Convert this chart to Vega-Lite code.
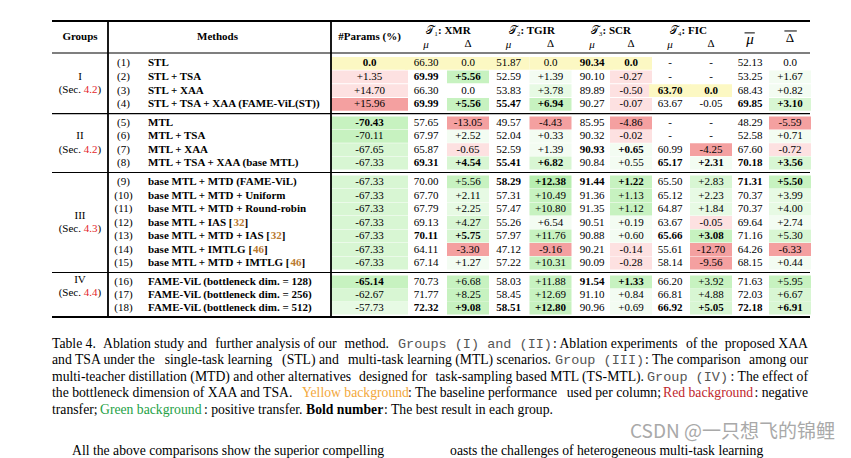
{
  "$schema": "https://vega.github.io/schema/vega-lite/v6.json",
  "width": 851,
  "height": 458,
  "autosize": {"type": "none"},
  "padding": 0,
  "background": "#ffffff",
  "config": {"view": {"stroke": null}, "text": {"font": "Liberation Serif", "fontSize": 11, "color": "#000000"}},
  "datasets": {
    "cells": [
      {"r":1,"c":3,"v":"0.0","b":1,"s":"base"},{"r":1,"c":4,"v":"66.30","s":"base"},{"r":1,"c":5,"v":"0.0","s":"base"},{"r":1,"c":6,"v":"51.87","s":"base"},{"r":1,"c":7,"v":"0.0","s":"base"},{"r":1,"c":8,"v":"90.34","b":1,"s":"base"},{"r":1,"c":9,"v":"0.0","b":1,"s":"base"},{"r":1,"c":10,"v":"-"},{"r":1,"c":11,"v":"-"},{"r":1,"c":12,"v":"52.13"},{"r":1,"c":13,"v":"0.0"},
      {"r":2,"c":3,"v":"+1.35","s":"r1"},{"r":2,"c":4,"v":"69.99","b":1},{"r":2,"c":5,"v":"+5.56","b":1,"s":"g3"},{"r":2,"c":6,"v":"52.59"},{"r":2,"c":7,"v":"+1.39","s":"g0"},{"r":2,"c":8,"v":"90.10"},{"r":2,"c":9,"v":"-0.27","s":"r1"},{"r":2,"c":10,"v":"-"},{"r":2,"c":11,"v":"-"},{"r":2,"c":12,"v":"53.25"},{"r":2,"c":13,"v":"+1.67","s":"g0"},
      {"r":3,"c":3,"v":"+14.70","s":"r1"},{"r":3,"c":4,"v":"66.30"},{"r":3,"c":5,"v":"0.0"},{"r":3,"c":6,"v":"53.83"},{"r":3,"c":7,"v":"+3.78","s":"g1"},{"r":3,"c":8,"v":"89.89"},{"r":3,"c":9,"v":"-0.50","s":"r1"},{"r":3,"c":10,"v":"63.70","b":1,"s":"base"},{"r":3,"c":11,"v":"0.0","b":1,"s":"base"},{"r":3,"c":12,"v":"68.43"},{"r":3,"c":13,"v":"+0.82","s":"g0"},
      {"r":4,"c":3,"v":"+15.96","s":"r3"},{"r":4,"c":4,"v":"69.99","b":1},{"r":4,"c":5,"v":"+5.56","b":1,"s":"g3"},{"r":4,"c":6,"v":"55.47","b":1},{"r":4,"c":7,"v":"+6.94","b":1,"s":"g3"},{"r":4,"c":8,"v":"90.27"},{"r":4,"c":9,"v":"-0.07","s":"r1"},{"r":4,"c":10,"v":"63.67"},{"r":4,"c":11,"v":"-0.05"},{"r":4,"c":12,"v":"69.85","b":1},{"r":4,"c":13,"v":"+3.10","b":1,"s":"g2"},
      {"r":5,"c":3,"v":"-70.43","b":1,"s":"g3"},{"r":5,"c":4,"v":"57.65"},{"r":5,"c":5,"v":"-13.05","s":"r3"},{"r":5,"c":6,"v":"49.57"},{"r":5,"c":7,"v":"-4.43","s":"r3"},{"r":5,"c":8,"v":"85.95"},{"r":5,"c":9,"v":"-4.86","s":"r3"},{"r":5,"c":10,"v":"-"},{"r":5,"c":11,"v":"-"},{"r":5,"c":12,"v":"48.29"},{"r":5,"c":13,"v":"-5.59","s":"r3"},
      {"r":6,"c":3,"v":"-70.11","s":"g3"},{"r":6,"c":4,"v":"67.97"},{"r":6,"c":5,"v":"+2.52","s":"g0"},{"r":6,"c":6,"v":"52.04"},{"r":6,"c":7,"v":"+0.33","s":"g0"},{"r":6,"c":8,"v":"90.32"},{"r":6,"c":9,"v":"-0.02","s":"r1"},{"r":6,"c":10,"v":"-"},{"r":6,"c":11,"v":"-"},{"r":6,"c":12,"v":"52.58"},{"r":6,"c":13,"v":"+0.71","s":"g0"},
      {"r":7,"c":3,"v":"-67.65","s":"g2"},{"r":7,"c":4,"v":"65.87"},{"r":7,"c":5,"v":"-0.65","s":"r1"},{"r":7,"c":6,"v":"52.59"},{"r":7,"c":7,"v":"+1.39","s":"g0"},{"r":7,"c":8,"v":"90.93","b":1},{"r":7,"c":9,"v":"+0.65","b":1,"s":"g0"},{"r":7,"c":10,"v":"60.99"},{"r":7,"c":11,"v":"-4.25","s":"r3"},{"r":7,"c":12,"v":"67.60"},{"r":7,"c":13,"v":"-0.72","s":"r1"},
      {"r":8,"c":3,"v":"-67.33","s":"g2"},{"r":8,"c":4,"v":"69.31","b":1},{"r":8,"c":5,"v":"+4.54","b":1,"s":"g2"},{"r":8,"c":6,"v":"55.41","b":1},{"r":8,"c":7,"v":"+6.82","b":1,"s":"g2"},{"r":8,"c":8,"v":"90.84"},{"r":8,"c":9,"v":"+0.55","s":"g0"},{"r":8,"c":10,"v":"65.17","b":1},{"r":8,"c":11,"v":"+2.31","b":1,"s":"g0"},{"r":8,"c":12,"v":"70.18","b":1},{"r":8,"c":13,"v":"+3.56","b":1,"s":"g2"},
      {"r":9,"c":3,"v":"-67.33","s":"g2"},{"r":9,"c":4,"v":"70.00"},{"r":9,"c":5,"v":"+5.56","s":"g3"},{"r":9,"c":6,"v":"58.29","b":1},{"r":9,"c":7,"v":"+12.38","b":1,"s":"g4"},{"r":9,"c":8,"v":"91.44","b":1},{"r":9,"c":9,"v":"+1.22","b":1,"s":"g3"},{"r":9,"c":10,"v":"65.50"},{"r":9,"c":11,"v":"+2.83","s":"g2"},{"r":9,"c":12,"v":"71.31","b":1},{"r":9,"c":13,"v":"+5.50","b":1,"s":"g3"},
      {"r":10,"c":3,"v":"-67.33","s":"g2"},{"r":10,"c":4,"v":"67.70"},{"r":10,"c":5,"v":"+2.11","s":"g1"},{"r":10,"c":6,"v":"57.31"},{"r":10,"c":7,"v":"+10.49","s":"g3"},{"r":10,"c":8,"v":"91.36"},{"r":10,"c":9,"v":"+1.13","s":"g3"},{"r":10,"c":10,"v":"65.12"},{"r":10,"c":11,"v":"+2.23","s":"g1"},{"r":10,"c":12,"v":"70.37"},{"r":10,"c":13,"v":"+3.99","s":"g1"},
      {"r":11,"c":3,"v":"-67.33","s":"g2"},{"r":11,"c":4,"v":"67.79"},{"r":11,"c":5,"v":"+2.25","s":"g1"},{"r":11,"c":6,"v":"57.47"},{"r":11,"c":7,"v":"+10.80","s":"g3"},{"r":11,"c":8,"v":"91.35"},{"r":11,"c":9,"v":"+1.12","s":"g3"},{"r":11,"c":10,"v":"64.87"},{"r":11,"c":11,"v":"+1.84","s":"g1"},{"r":11,"c":12,"v":"70.37"},{"r":11,"c":13,"v":"+4.00","s":"g1"},
      {"r":12,"c":3,"v":"-67.33","s":"g2"},{"r":12,"c":4,"v":"69.13"},{"r":12,"c":5,"v":"+4.27","s":"g2"},{"r":12,"c":6,"v":"55.26"},{"r":12,"c":7,"v":"+6.54","s":"g0"},{"r":12,"c":8,"v":"90.51"},{"r":12,"c":9,"v":"+0.19","s":"g0"},{"r":12,"c":10,"v":"63.67"},{"r":12,"c":11,"v":"-0.05","s":"r1"},{"r":12,"c":12,"v":"69.64"},{"r":12,"c":13,"v":"+2.74","s":"g0"},
      {"r":13,"c":3,"v":"-67.33","s":"g2"},{"r":13,"c":4,"v":"70.11","b":1},{"r":13,"c":5,"v":"+5.75","b":1,"s":"g2"},{"r":13,"c":6,"v":"57.97"},{"r":13,"c":7,"v":"+11.76","s":"g3"},{"r":13,"c":8,"v":"90.88"},{"r":13,"c":9,"v":"+0.60","s":"g0"},{"r":13,"c":10,"v":"65.66","b":1},{"r":13,"c":11,"v":"+3.08","b":1,"s":"g3"},{"r":13,"c":12,"v":"71.16"},{"r":13,"c":13,"v":"+5.30","s":"g2"},
      {"r":14,"c":3,"v":"-67.33","s":"g2"},{"r":14,"c":4,"v":"64.11"},{"r":14,"c":5,"v":"-3.30","s":"r3"},{"r":14,"c":6,"v":"47.12"},{"r":14,"c":7,"v":"-9.16","s":"r3"},{"r":14,"c":8,"v":"90.21"},{"r":14,"c":9,"v":"-0.14","s":"r1"},{"r":14,"c":10,"v":"55.61"},{"r":14,"c":11,"v":"-12.70","s":"r3"},{"r":14,"c":12,"v":"64.26"},{"r":14,"c":13,"v":"-6.33","s":"r3"},
      {"r":15,"c":3,"v":"-67.33","s":"g2"},{"r":15,"c":4,"v":"67.14"},{"r":15,"c":5,"v":"+1.27","s":"g0"},{"r":15,"c":6,"v":"57.22"},{"r":15,"c":7,"v":"+10.31","s":"g3"},{"r":15,"c":8,"v":"90.09"},{"r":15,"c":9,"v":"-0.28","s":"r1"},{"r":15,"c":10,"v":"58.14"},{"r":15,"c":11,"v":"-9.56","s":"r3"},{"r":15,"c":12,"v":"68.15"},{"r":15,"c":13,"v":"+0.44","s":"g0"},
      {"r":16,"c":3,"v":"-65.14","b":1,"s":"g3"},{"r":16,"c":4,"v":"70.73"},{"r":16,"c":5,"v":"+6.68","s":"g3"},{"r":16,"c":6,"v":"58.03"},{"r":16,"c":7,"v":"+11.88","s":"g3"},{"r":16,"c":8,"v":"91.54","b":1},{"r":16,"c":9,"v":"+1.33","b":1,"s":"g3"},{"r":16,"c":10,"v":"66.20"},{"r":16,"c":11,"v":"+3.92","s":"g3"},{"r":16,"c":12,"v":"71.63"},{"r":16,"c":13,"v":"+5.95","s":"g3"},
      {"r":17,"c":3,"v":"-62.67","s":"g2"},{"r":17,"c":4,"v":"71.77"},{"r":17,"c":5,"v":"+8.25","s":"g3"},{"r":17,"c":6,"v":"58.45"},{"r":17,"c":7,"v":"+12.69","s":"g3"},{"r":17,"c":8,"v":"91.10"},{"r":17,"c":9,"v":"+0.84","s":"g0"},{"r":17,"c":10,"v":"66.81"},{"r":17,"c":11,"v":"+4.88","s":"g2"},{"r":17,"c":12,"v":"72.03"},{"r":17,"c":13,"v":"+6.67","s":"g2"},
      {"r":18,"c":3,"v":"-57.73","s":"g1"},{"r":18,"c":4,"v":"72.32","b":1},{"r":18,"c":5,"v":"+9.08","b":1,"s":"g3"},{"r":18,"c":6,"v":"58.51","b":1},{"r":18,"c":7,"v":"+12.80","b":1,"s":"g3"},{"r":18,"c":8,"v":"90.96"},{"r":18,"c":9,"v":"+0.69","s":"g0"},{"r":18,"c":10,"v":"66.92","b":1},{"r":18,"c":11,"v":"+5.05","b":1,"s":"g2"},{"r":18,"c":12,"v":"72.18","b":1},{"r":18,"c":13,"v":"+6.91","b":1,"s":"g2"}
    ],
    "methods": [
      {"r":1,"ci":1,"c":2,"i":"(1)","m":"STL"},
      {"r":2,"ci":1,"c":2,"i":"(2)","m":"STL + TSA"},
      {"r":3,"ci":1,"c":2,"i":"(3)","m":"STL + XAA"},
      {"r":4,"ci":1,"c":2,"i":"(4)","m":"STL + TSA + XAA (FAME-ViL(ST))"},
      {"r":5,"ci":1,"c":2,"i":"(5)","m":"MTL"},
      {"r":6,"ci":1,"c":2,"i":"(6)","m":"MTL + TSA"},
      {"r":7,"ci":1,"c":2,"i":"(7)","m":"MTL + XAA"},
      {"r":8,"ci":1,"c":2,"i":"(8)","m":"MTL + TSA + XAA (base MTL)"},
      {"r":9,"ci":1,"c":2,"i":"(9)","m":"base MTL + MTD (FAME-ViL)"},
      {"r":10,"ci":1,"c":2,"i":"(10)","m":"base MTL + MTD + Uniform"},
      {"r":11,"ci":1,"c":2,"i":"(11)","m":"base MTL + MTD + Round-robin"},
      {"r":12,"ci":1,"c":2,"i":"(12)","m":"base MTL + IAS [","ref":"32"},
      {"r":13,"ci":1,"c":2,"i":"(13)","m":"base MTL + MTD + IAS [","ref":"32"},
      {"r":14,"ci":1,"c":2,"i":"(14)","m":"base MTL + IMTLG [","ref":"46"},
      {"r":15,"ci":1,"c":2,"i":"(15)","m":"base MTL + MTD + IMTLG [","ref":"46"},
      {"r":16,"ci":1,"c":2,"i":"(16)","m":"FAME-ViL (bottleneck dim. = 128)"},
      {"r":17,"ci":1,"c":2,"i":"(17)","m":"FAME-ViL (bottleneck dim. = 256)"},
      {"r":18,"ci":1,"c":2,"i":"(18)","m":"FAME-ViL (bottleneck dim. = 512)"}
    ],
    "groups": [
      {"r":2.5,"c":0,"g":"I","sec":"4.2"},
      {"r":6.5,"c":0,"g":"II","sec":"4.2"},
      {"r":12,"c":0,"g":"III","sec":"4.3"},
      {"r":16.38,"c":0,"g":"IV","sec":"4.4"}
    ],
    "heads": [
      {"r":-1,"c":0,"t":"Groups"},
      {"r":-1,"c":2.19,"t":"Methods"},
      {"r":-1,"c":3,"t":"#Params (%)"}
    ],
    "tasks": [
      {"r":-2,"c":4.5,"lead":"𝒯₁","name":": XMR"},
      {"r":-2,"c":6.5,"lead":"𝒯₂","name":": TGIR"},
      {"r":-2,"c":8.5,"lead":"𝒯₃","name":": SCR"},
      {"r":-2,"c":10.5,"lead":"𝒯₄","name":": FIC"}
    ],
    "subs": [
      {"r":0,"c":4,"t":"μ"},{"r":0,"c":5,"t":"Δ"},
      {"r":0,"c":6,"t":"μ"},{"r":0,"c":7,"t":"Δ"},
      {"r":0,"c":8,"t":"μ"},{"r":0,"c":9,"t":"Δ"},
      {"r":0,"c":10,"t":"μ"},{"r":0,"c":11,"t":"Δ"}
    ],
    "avgs": [
      {"r":-1,"c":12,"t":"μ"},
      {"r":-1,"c":13,"t":"Δ"}
    ],
    "bars": [
      {"r":-1.6,"c":11.86,"c2":12.12},
      {"r":-1.92,"c":12.86,"c2":13.34}
    ],
    "hrules": [
      {"r":-3,"c":-1,"c2":14,"w":"thick"},
      {"r":0.5,"c":-1,"c2":14,"w":"thin"},
      {"r":4.5,"c":-1,"c2":14,"w":"thin"},
      {"r":8.5,"c":-1,"c2":14,"w":"thin"},
      {"r":15.5,"c":-1,"c2":14,"w":"thin"},
      {"r":18.5,"c":-1,"c2":14,"w":"thick"}
    ],
    "vrules": [{"c":0.5,"r":-3,"r2":18.5},{"c":2.5,"r":-3,"r2":18.5}],
    "caption": [
      {"line":1,"at":0,"t":"Table 4.","k":"plain"},
      {"line":1,"at":0.0675,"t":"Ablation study and","k":"plain"},
      {"line":1,"at":0.2962,"t":"further analysis of our","k":"plain","pos":"mid"},
      {"line":1,"at":0.4458,"t":"method.","k":"plain","pos":"end"},
      {"line":1,"at":0.4577,"t":"Groups (I) and (II)","k":"mono"},
      {"line":1,"at":0.6627,"t":": Ablation experiments","k":"plain"},
      {"line":1,"at":0.8594,"t":"of the","k":"plain","pos":"mid"},
      {"line":1,"at":1.0,"t":"proposed XAA","k":"plain","pos":"end"},
      {"line":2,"at":0,"t":"and TSA under the","k":"plain"},
      {"line":2,"at":0.2202,"t":"single-task learning","k":"plain","pos":"mid"},
      {"line":2,"at":0.3418,"t":"(STL) and","k":"plain","pos":"mid"},
      {"line":2,"at":0.6600,"t":"multi-task learning (MTL) scenarios.","k":"plain","pos":"end"},
      {"line":2,"at":0.6653,"t":"Group (III)","k":"mono"},
      {"line":2,"at":0.7844,"t":": The comparison","k":"plain"},
      {"line":2,"at":1.0,"t":"among our","k":"plain","pos":"end"},
      {"line":3,"at":0,"t":"multi-teacher distillation (MTD) and other alternatives","k":"plain"},
      {"line":3,"at":0.4512,"t":"designed for","k":"plain","pos":"mid"},
      {"line":3,"at":0.7831,"t":"task-sampling based MTL (TS-MTL).","k":"plain","pos":"end"},
      {"line":3,"at":0.787,"t":"Group (IV)","k":"mono"},
      {"line":3,"at":1.0,"t":": The effect of","k":"plain","pos":"end"},
      {"line":4,"at":0,"t":"the bottleneck dimension of XAA and TSA.","k":"plain"},
      {"line":4,"at":0.3307,"t":"Yellow background","k":"yel"},
      {"line":4,"at":0.4709,"t":": The baseline performance","k":"plain"},
      {"line":4,"at":0.8056,"t":"used per column;","k":"plain","pos":"end"},
      {"line":4,"at":0.8082,"t":"Red background","k":"red"},
      {"line":4,"at":1.0,"t":": negative","k":"plain","pos":"end"},
      {"line":5,"at":0,"t":"transfer;","k":"plain"},
      {"line":5,"at":0.0635,"t":"Green background","k":"grn"},
      {"line":5,"at":0.2011,"t":": positive transfer.","k":"plain"},
      {"line":5,"at":0.336,"t":"Bold number","k":"bold"},
      {"line":5,"at":0.4392,"t":": The best result in each group.","k":"plain"},
      {"line":7.5,"at":0.0265,"t":"All the above comparisons show the superior compelling","k":"plain"},
      {"line":7.5,"at":0.5265,"t":"oasts the challenges of heterogeneous multi-task learning","k":"plain"},
      {"line":6.5,"at":1.0357,"t":"CSDN @一只想飞的锦鲤","k":"wm"}
    ]
  },
  "resolve": {"scale": {"x": "independent", "y": "independent", "color": "independent"}},
  "layer": [
    {
      "encoding": {
        "x": {"field": "c", "type": "quantitative", "axis": null,
              "scale": {"domain": [-1,0,0.5,1,2,2.5,3,4,5,6,7,8,9,10,11,12,13,14],
                        "range": [52,80,108,123.5,148,331,369.5,426,468,508.5,550.5,592,631,670,711,750,790,810],
                        "zero": false, "nice": false}},
        "y": {"field": "r", "type": "quantitative", "axis": null,
              "scale": {"domain": [-3,-2,-1,0,0.5,1,4,5,8,9,15,16,18,18.5],
                        "range": [21,30.5,36.5,44,53,63.3,104.3,123,163,182,263,282,308,317],
                        "zero": false, "nice": false}}
      },
      "layer": [
        {
          "data": {"name": "cells"},
          "transform": [{"filter": "datum.s && datum.c == 3"}],
          "mark": {"type": "rect", "width": 77, "height": 12.8},
          "encoding": {"color": {"field": "s", "type": "nominal", "legend": null,
            "scale": {"domain": ["base","r1","r3","g0","g1","g2","g3","g4"],
                      "range": ["#fcf8c3","#fde1e1","#f4a0a0","#f3fcf2","#e7fae4","#d8f6d3","#c7f2c0","#b7eeaf"]}}}
        },
        {
          "data": {"name": "cells"},
          "transform": [{"filter": "datum.s && datum.c >= 4"}],
          "mark": {"type": "rect", "width": 42, "height": 12.8},
          "encoding": {"color": {"field": "s", "type": "nominal", "legend": null,
            "scale": {"domain": ["base","r1","r3","g0","g1","g2","g3","g4"],
                      "range": ["#fcf8c3","#fde1e1","#f4a0a0","#f3fcf2","#e7fae4","#d8f6d3","#c7f2c0","#b7eeaf"]}}}
        },
        {
          "data": {"name": "cells"},
          "transform": [{"filter": "!datum.b"}],
          "mark": {"type": "text", "align": "center", "baseline": "middle"},
          "encoding": {"text": {"field": "v", "type": "nominal"}}
        },
        {
          "data": {"name": "cells"},
          "transform": [{"filter": "datum.b"}],
          "mark": {"type": "text", "align": "center", "baseline": "middle", "fontWeight": "bold"},
          "encoding": {"text": {"field": "v", "type": "nominal"}}
        },
        {
          "data": {"name": "methods"},
          "mark": {"type": "text", "align": "center", "baseline": "middle"},
          "encoding": {"x": {"field": "ci", "type": "quantitative", "axis": null}, "text": {"field": "i", "type": "nominal"}}
        },
        {
          "data": {"name": "methods"},
          "mark": {"type": "text", "align": "left", "baseline": "middle", "fontWeight": "bold"},
          "encoding": {"text": {"field": "m", "type": "nominal"}}
        },
        {
          "data": {"name": "methods"},
          "transform": [{"filter": "datum.ref"}],
          "mark": {"type": "text", "align": "left", "baseline": "middle", "fontWeight": "bold", "color": "#b8792f",
                   "dx": {"expr": "datum.r == 12 ? 85.4 : datum.r == 13 ? 122.8 : datum.r == 14 ? 105 : 142.4"}},
          "encoding": {"text": {"field": "ref", "type": "nominal"}}
        },
        {
          "data": {"name": "methods"},
          "transform": [{"filter": "datum.ref"}],
          "mark": {"type": "text", "align": "left", "baseline": "middle", "fontWeight": "bold", "color": "#000000", "text": "]",
                   "dx": {"expr": "datum.r == 12 ? 96.4 : datum.r == 13 ? 133.8 : datum.r == 14 ? 116 : 153.4"}},
          "encoding": {}
        },
        {
          "data": {"name": "groups"},
          "mark": {"type": "text", "align": "center", "baseline": "middle", "dy": -7},
          "encoding": {"text": {"field": "g", "type": "nominal"}}
        },
        {
          "data": {"name": "groups"},
          "mark": {"type": "text", "align": "left", "baseline": "middle", "dx": -21.3, "dy": 6.5, "text": "(Sec."},
          "encoding": {}
        },
        {
          "data": {"name": "groups"},
          "mark": {"type": "text", "align": "left", "baseline": "middle", "dx": 3.8, "dy": 6.5, "color": "#e3262b"},
          "encoding": {"text": {"field": "sec", "type": "nominal"}}
        },
        {
          "data": {"name": "groups"},
          "mark": {"type": "text", "align": "left", "baseline": "middle", "dx": 17.6, "dy": 6.5, "text": ")"},
          "encoding": {}
        },
        {
          "data": {"name": "heads"},
          "mark": {"type": "text", "align": "center", "baseline": "middle", "fontWeight": "bold"},
          "encoding": {"text": {"field": "t", "type": "nominal"}}
        },
        {
          "data": {"name": "tasks"},
          "mark": {"type": "text", "align": "right", "baseline": "middle", "dx": -9},
          "encoding": {"text": {"field": "lead", "type": "nominal"}}
        },
        {
          "data": {"name": "tasks"},
          "mark": {"type": "text", "align": "left", "baseline": "middle", "dx": -9, "fontWeight": "bold"},
          "encoding": {"text": {"field": "name", "type": "nominal"}}
        },
        {
          "data": {"name": "subs"},
          "transform": [{"filter": "datum.t == 'μ'"}],
          "mark": {"type": "text", "align": "center", "baseline": "middle", "fontStyle": "italic", "dy": 1},
          "encoding": {"text": {"field": "t", "type": "nominal"}}
        },
        {
          "data": {"name": "subs"},
          "transform": [{"filter": "datum.t != 'μ'"}],
          "mark": {"type": "text", "align": "center", "baseline": "middle"},
          "encoding": {"text": {"field": "t", "type": "nominal"}}
        },
        {
          "data": {"name": "avgs"},
          "transform": [{"filter": "datum.c == 12"}],
          "mark": {"type": "text", "align": "center", "baseline": "middle", "fontStyle": "italic", "fontSize": 15, "dy": 2},
          "encoding": {"text": {"field": "t", "type": "nominal"}}
        },
        {
          "data": {"name": "avgs"},
          "transform": [{"filter": "datum.c == 13"}],
          "mark": {"type": "text", "align": "center", "baseline": "middle", "fontSize": 13, "dy": 1},
          "encoding": {"text": {"field": "t", "type": "nominal"}}
        },
        {
          "data": {"name": "bars"},
          "mark": {"type": "rule", "color": "#000000", "strokeWidth": 1},
          "encoding": {"x2": {"field": "c2"}}
        },
        {
          "data": {"name": "hrules"},
          "transform": [{"filter": "datum.w == 'thick'"}],
          "mark": {"type": "rule", "color": "#000000", "strokeWidth": 2},
          "encoding": {"x2": {"field": "c2"}}
        },
        {
          "data": {"name": "hrules"},
          "transform": [{"filter": "datum.w == 'thin'"}],
          "mark": {"type": "rule", "color": "#000000", "strokeWidth": 1.2},
          "encoding": {"x2": {"field": "c2"}}
        },
        {
          "data": {"name": "vrules"},
          "mark": {"type": "rule", "color": "#000000", "strokeWidth": 1.8},
          "encoding": {"y2": {"field": "r2"}}
        }
      ]
    },
    {
      "data": {"name": "caption"},
      "encoding": {
        "x": {"field": "at", "type": "quantitative", "axis": null,
              "scale": {"domain": [0, 1], "range": [52, 808], "zero": false, "nice": false}},
        "y": {"field": "line", "type": "quantitative", "axis": null,
              "scale": {"domain": [1, 5], "range": [347.5, 413.5], "zero": false, "nice": false}},
        "text": {"field": "t", "type": "nominal"}
      },
      "layer": [
        {
          "transform": [{"filter": "datum.k == 'plain' && !datum.pos"}],
          "mark": {"type": "text", "align": "left", "baseline": "alphabetic", "fontSize": 13.7, "color": "#000000"}
        },
        {
          "transform": [{"filter": "datum.k == 'plain' && datum.pos == 'mid'"}],
          "mark": {"type": "text", "align": "center", "baseline": "alphabetic", "fontSize": 13.7, "color": "#000000"}
        },
        {
          "transform": [{"filter": "datum.k == 'plain' && datum.pos == 'end'"}],
          "mark": {"type": "text", "align": "right", "baseline": "alphabetic", "fontSize": 13.7, "color": "#000000"}
        },
        {
          "transform": [{"filter": "datum.k == 'mono'"}],
          "mark": {"type": "text", "align": "left", "baseline": "alphabetic", "fontSize": 13.5, "font": "Liberation Mono", "color": "#555555"}
        },
        {
          "transform": [{"filter": "datum.k == 'bold'"}],
          "mark": {"type": "text", "align": "left", "baseline": "alphabetic", "fontSize": 13.7, "fontWeight": "bold", "color": "#000000"}
        },
        {
          "transform": [{"filter": "datum.k == 'yel' || datum.k == 'red' || datum.k == 'grn'"}],
          "mark": {"type": "text", "align": "left", "baseline": "alphabetic", "fontSize": 13.7},
          "encoding": {"color": {"field": "k", "type": "nominal", "legend": null,
            "scale": {"domain": ["yel", "red", "grn"], "range": ["#f3a83b", "#c0262d", "#25a146"]}}}
        },
        {
          "transform": [{"filter": "datum.k == 'wm'"}],
          "mark": {"type": "text", "align": "right", "baseline": "alphabetic", "fontSize": 19, "font": "Noto Sans CJK SC", "color": "#a9a9a9"}
        }
      ]
    }
  ]
}
